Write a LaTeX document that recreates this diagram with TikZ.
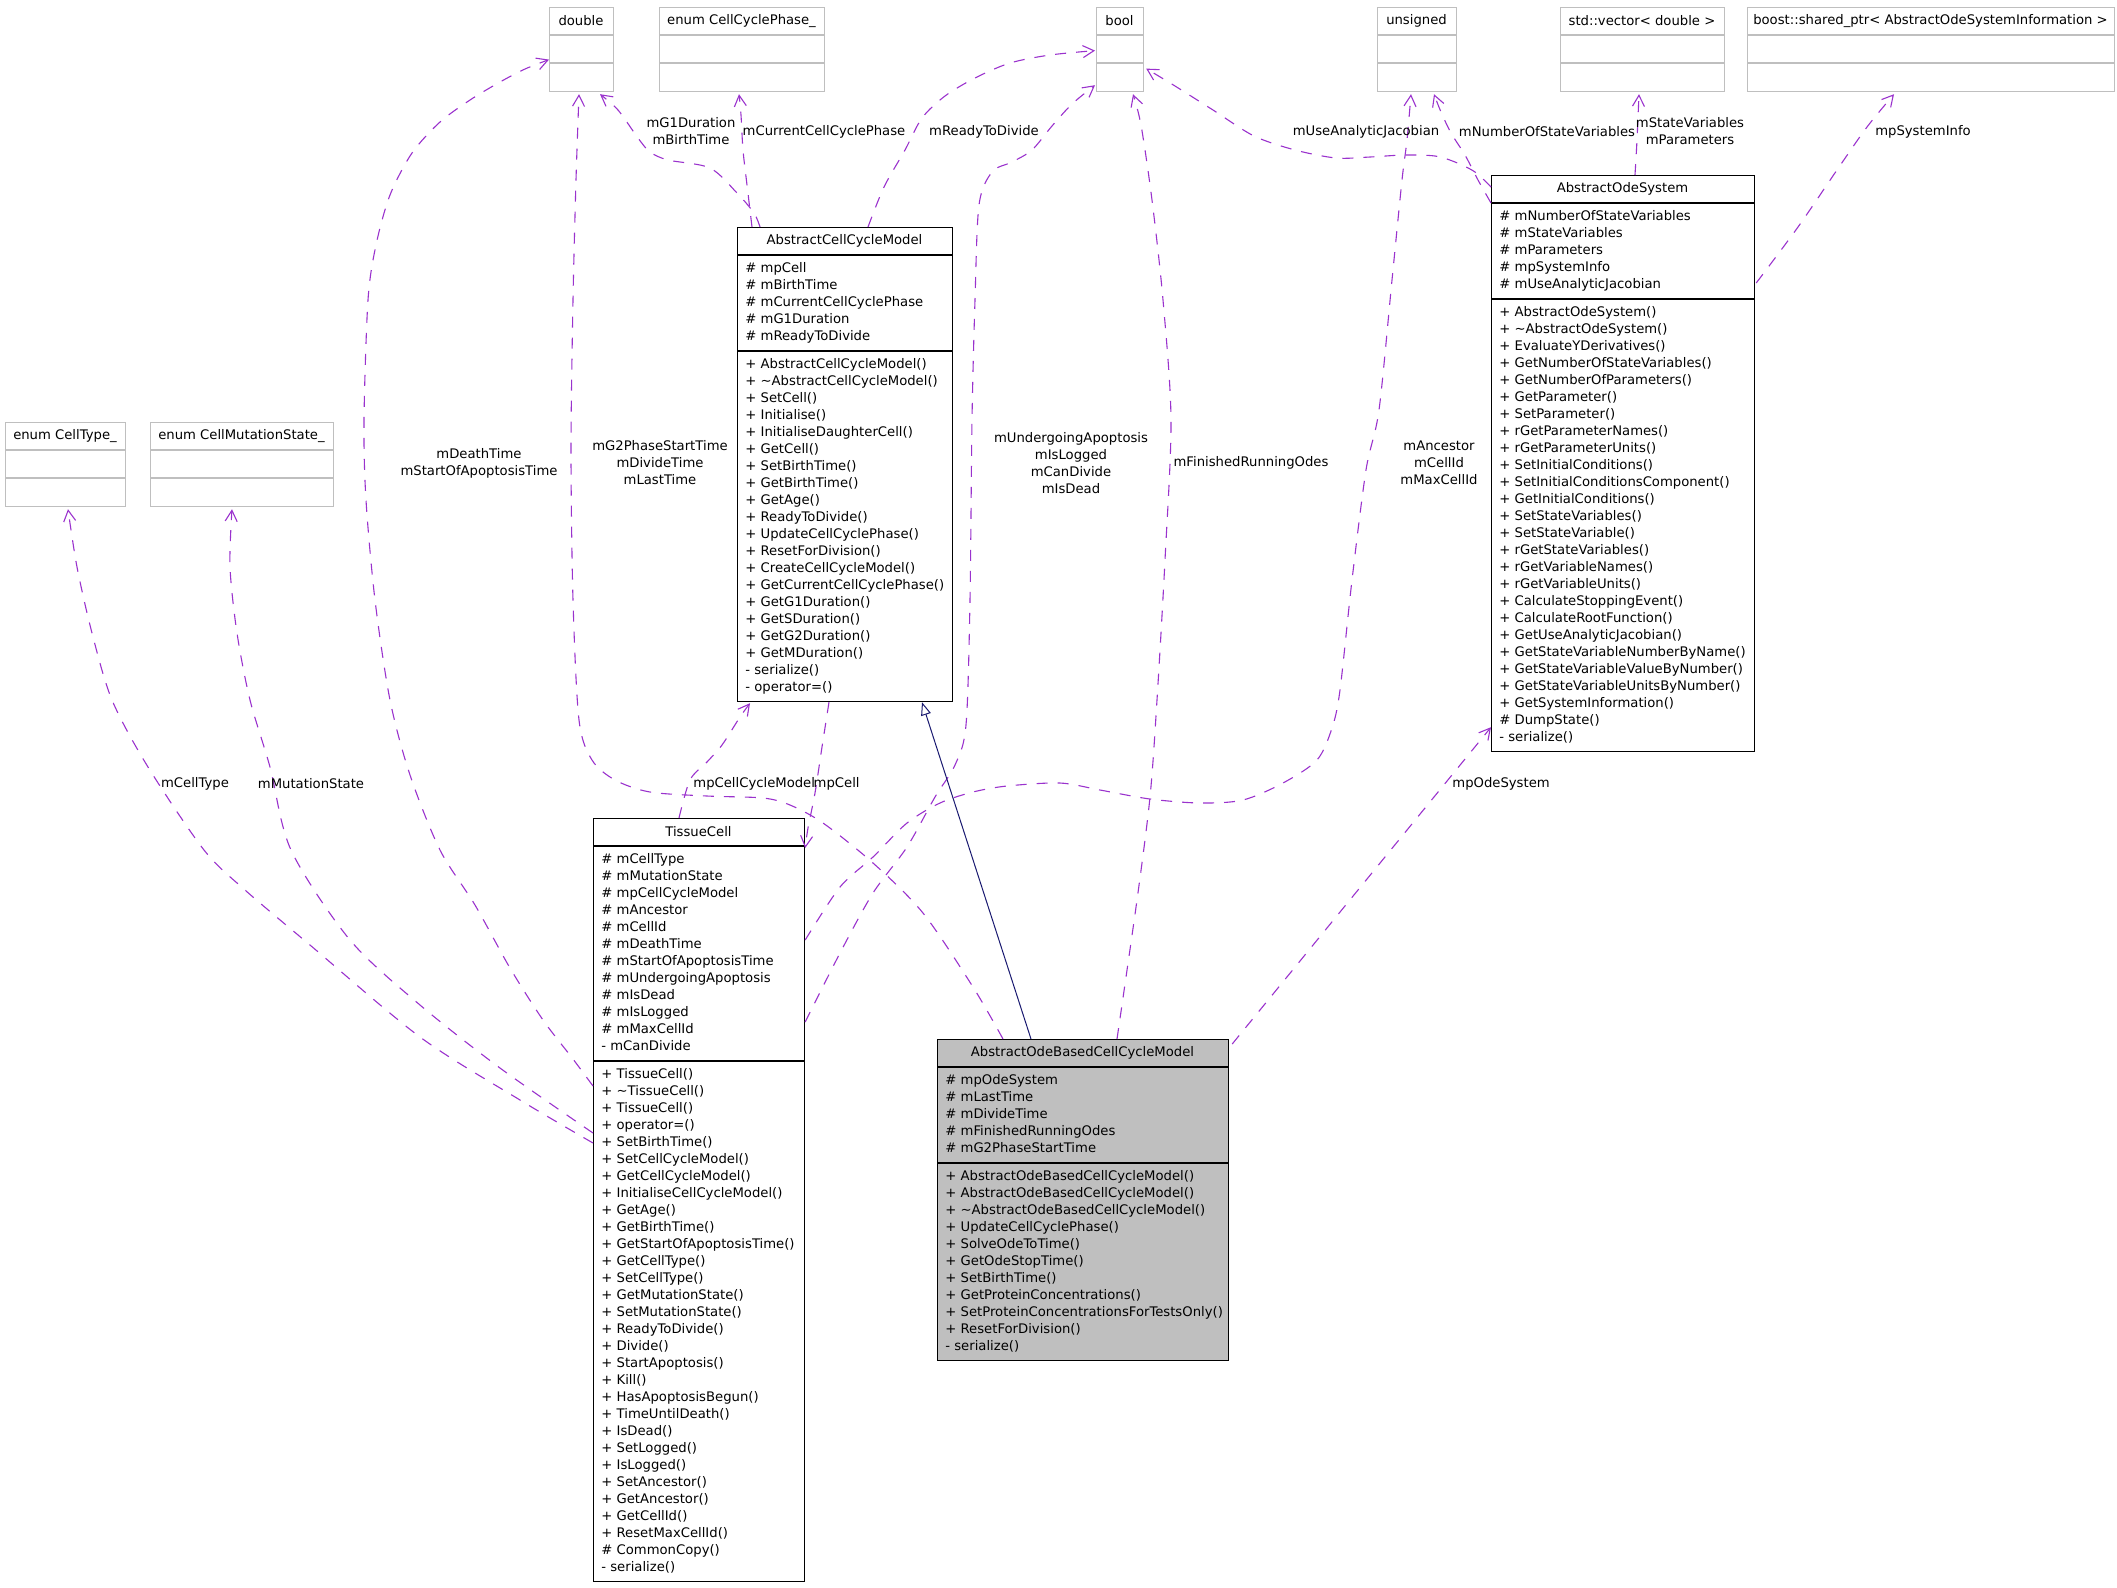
\documentclass[tikz,border=0pt]{standalone}
\usepackage{fontspec}
\setmainfont{DejaVu Sans}
\usetikzlibrary{arrows.meta,calc}
\definecolor{relpurple}{HTML}{9A32CD}
\definecolor{inhblue}{HTML}{191970}
\definecolor{boxgray}{HTML}{BFBFBF}
\tikzset{
  umlfont/.style={font=\fontsize{6.6}{8.5}\selectfont},
  classbox/.style={draw=black, line width=0.6pt, fill=white, anchor=north west, inner sep=0pt},
  typebox/.style={draw=boxgray, line width=0.6pt, fill=white, anchor=north west, inner sep=0pt},
  focusbox/.style={draw=black, line width=0.6pt, fill=boxgray, anchor=north west, inner sep=0pt},
  ctitle/.style={umlfont, inner sep=0pt, anchor=center},
  ctext/.style={umlfont, inner sep=0pt, anchor=north west, align=left},
  rel/.style={draw=relpurple, line width=0.55pt, dash pattern=on 5.5pt off 5pt,
              -{Straight Barb[length=5.5pt,width=6pt]}},
  inh/.style={draw=inhblue, line width=0.5pt, -{Triangle[open,length=6.5pt,width=5pt,fill=white]}},
  lbl/.style={umlfont, inner sep=0pt, align=center, text=black},
}
\newcommand\umlclass[9][classbox]{%
  \node[#1, minimum width={#4*0.5pt}, minimum height={(28+#6+#8)*0.5pt}] (#2) at (#3) {};
  \draw[#1, fill=none] ($(#2.north west)+(0,28)$) -- ($(#2.north east)+(0,28)$);
  \draw[#1, fill=none] ($(#2.north west)+(0,28+#6)$) -- ($(#2.north east)+(0,28+#6)$);
  \node[ctitle] (#2-t) at ($(#2.north west)+(#4/2,14)$) {#5};
  \node[ctext] (#2-a) at ($(#2.north west)+(8,33)$) {\strut#7};
  \node[ctext] (#2-m) at ($(#2.north west)+(8,33+#6)$) {\strut#9};
}
\begin{document}
\begin{tikzpicture}[x=0.5pt, y=-0.5pt]
\useasboundingbox (0,0) rectangle (2117,1587);

% type boxes
\umlclass[typebox]{double}{549,7}{64}{double}{28}{}{28}{}
\umlclass[typebox]{ccp}{659,7}{165}{enum CellCyclePhase\_}{28}{}{28}{}
\umlclass[typebox]{bool}{1096,7}{47}{bool}{28}{}{28}{}
\umlclass[typebox]{unsigned}{1377,7}{79}{unsigned}{28}{}{28}{}
\umlclass[typebox]{vector}{1560,7}{164}{std::vector< double >}{28}{}{28}{}
\umlclass[typebox]{boost}{1747,7}{367}{boost::shared\_ptr< AbstractOdeSystemInformation >}{28}{}{28}{}
\umlclass[typebox]{ctype}{5,422}{120}{enum CellType\_}{28}{}{28}{}
\umlclass[typebox]{cms}{150,422}{183}{enum CellMutationState\_}{28}{}{28}{}

% classes
\umlclass{acm}{737,227}{215}{AbstractCellCycleModel}{96}{%
\# mpCell\\\# mBirthTime\\\# mCurrentCellCyclePhase\\\# mG1Duration\\\# mReadyToDivide}{350}{%
+ AbstractCellCycleModel()\\+ \textasciitilde AbstractCellCycleModel()\\+ SetCell()\\+ Initialise()\\%
+ InitialiseDaughterCell()\\+ GetCell()\\+ SetBirthTime()\\+ GetBirthTime()\\+ GetAge()\\%
+ ReadyToDivide()\\+ UpdateCellCyclePhase()\\+ ResetForDivision()\\+ CreateCellCycleModel()\\%
+ GetCurrentCellCyclePhase()\\+ GetG1Duration()\\+ GetSDuration()\\+ GetG2Duration()\\%
+ GetMDuration()\\- serialize()\\- operator=()}

\umlclass{aos}{1491,175}{263}{AbstractOdeSystem}{96}{%
\# mNumberOfStateVariables\\\# mStateVariables\\\# mParameters\\\# mpSystemInfo\\\# mUseAnalyticJacobian}{452}{%
+ AbstractOdeSystem()\\+ \textasciitilde AbstractOdeSystem()\\+ EvaluateYDerivatives()\\%
+ GetNumberOfStateVariables()\\+ GetNumberOfParameters()\\+ GetParameter()\\+ SetParameter()\\%
+ rGetParameterNames()\\+ rGetParameterUnits()\\+ SetInitialConditions()\\%
+ SetInitialConditionsComponent()\\+ GetInitialConditions()\\+ SetStateVariables()\\%
+ SetStateVariable()\\+ rGetStateVariables()\\+ rGetVariableNames()\\+ rGetVariableUnits()\\%
+ CalculateStoppingEvent()\\+ CalculateRootFunction()\\+ GetUseAnalyticJacobian()\\%
+ GetStateVariableNumberByName()\\+ GetStateVariableValueByNumber()\\%
+ GetStateVariableUnitsByNumber()\\+ GetSystemInformation()\\\# DumpState()\\- serialize()}

\umlclass{tc}{593,818}{211}{TissueCell}{215}{%
\# mCellType\\\# mMutationState\\\# mpCellCycleModel\\\# mAncestor\\\# mCellId\\\# mDeathTime\\%
\# mStartOfApoptosisTime\\\# mUndergoingApoptosis\\\# mIsDead\\\# mIsLogged\\\# mMaxCellId\\- mCanDivide}{520}{%
+ TissueCell()\\+ \textasciitilde TissueCell()\\+ TissueCell()\\+ operator=()\\+ SetBirthTime()\\%
+ SetCellCycleModel()\\+ GetCellCycleModel()\\+ InitialiseCellCycleModel()\\+ GetAge()\\%
+ GetBirthTime()\\+ GetStartOfApoptosisTime()\\+ GetCellType()\\+ SetCellType()\\%
+ GetMutationState()\\+ SetMutationState()\\+ ReadyToDivide()\\+ Divide()\\+ StartApoptosis()\\%
+ Kill()\\+ HasApoptosisBegun()\\+ TimeUntilDeath()\\+ IsDead()\\+ SetLogged()\\+ IsLogged()\\%
+ SetAncestor()\\+ GetAncestor()\\+ GetCellId()\\+ ResetMaxCellId()\\\# CommonCopy()\\- serialize()}

\umlclass[focusbox]{abccm}{937,1039}{291}{AbstractOdeBasedCellCycleModel}{96}{%
\# mpOdeSystem\\\# mLastTime\\\# mDivideTime\\\# mFinishedRunningOdes\\\# mG2PhaseStartTime}{197}{%
+ AbstractOdeBasedCellCycleModel()\\+ AbstractOdeBasedCellCycleModel()\\%
+ \textasciitilde AbstractOdeBasedCellCycleModel()\\+ UpdateCellCyclePhase()\\+ SolveOdeToTime()\\%
+ GetOdeStopTime()\\+ SetBirthTime()\\+ GetProteinConcentrations()\\%
+ SetProteinConcentrationsForTestsOnly()\\+ ResetForDivision()\\- serialize()}

% connectors
% ACCM -> double
\draw[rel] plot[smooth] coordinates {($(acm.north west)+(23,0)$) (754,213) (737,193) (710,168) (668,160) (650,152) (638,138) (618,110) ($(double.south west)+(51,2)$)};
% ACCM -> CellCyclePhase
\draw[rel] plot[smooth] coordinates {($(acm.north west)+(15,0)$) (747,185) (743,150) (741,115) ($(ccp.south west)+(80,2)$)};
% ACCM -> bool
\draw[rel] plot[smooth] coordinates {($(acm.north west)+(131,0)$) (884,187) (905,150) (922,118) (945,96) (975,78) (1010,63) (1050,55) ($(bool.west)+(-1,1)$)};
% TissueCell -> bool
\draw[rel] plot[smooth] coordinates {($(tc.north east)+(0,204)$) (840,953) (873,893) (907,847) (935,797) (955,765) (966,725) (970,600) (972,420) (975,300) (979,205) (992,172) (1012,162) (1032,150) (1052,126) (1072,104) ($(bool.south west)+(-1,-7)$)};
% TissueCell -> unsigned
\draw[rel] plot[smooth] coordinates {($(tc.north east)+(0,122)$) (840,887) (873,857) (907,823) (940,803) (973,792) (1007,786) (1060,783) (1100,790) (1150,799) (1200,803) (1243,800) (1283,783) (1317,760) (1332,728) (1340,690) (1352,580) (1366,470) (1379,410) (1392,280) (1402,180) (1407,140) ($(unsigned.south west)+(34,2)$)};
% ABCCM -> double
\draw[rel] plot[smooth] coordinates {($(abccm.north west)+(66,0)$) (973,987) (923,913) (873,863) (823,823) (790,805) (763,798) (707,796) (650,792) (615,780) (592,760) (579,720) (573,600) (571,450) (573,300) (576,180) ($(double.south west)+(30,2)$)};
% TissueCell -> double
\draw[rel] plot[smooth] coordinates {($(tc.north west)+(0,268)$) (573,1059) (543,1020) (510,968) (475,905) (440,850) (410,775) (390,700) (375,600) (366,500) (364,420) (368,300) (376,245) (390,195) (412,153) (440,122) (470,100) (500,82) (525,69) ($(double.west)+(0,10)$)};
% TissueCell -> CellType
\draw[rel] plot[smooth] coordinates {($(tc.north west)+(0,325)$) (520,1100) (420,1037) (310,945) (245,890) (204,850) (148,767) (112,700) (92,633) (77,567) ($(ctype.south west)+(63,2)$)};
% TissueCell -> CellMutationState
\draw[rel] plot[smooth] coordinates {($(tc.north west)+(0,315)$) (500,1068) (420,1005) (350,940) (291,850) (270,767) (250,700) (237,633) (230,567) ($(cms.south west)+(82,2)$)};
% TissueCell -> ACCM
\draw[rel] plot[smooth] coordinates {($(tc.north west)+(86,0)$) (690,780) (707,762) (722,745) (740,717) ($(acm.south west)+(13,1)$)};
% ACCM -> TissueCell
\draw[rel] plot[smooth] coordinates {($(acm.south west)+(92,0)$) (822,747) (815,793) (808,828) ($(tc.north east)+(0,30)$)};
% ABCCM -> bool
\draw[rel] plot[smooth] coordinates {($(abccm.north west)+(180,0)$) (1137,900) (1150,797) (1157,700) (1165,560) (1171,420) (1163,300) (1152,200) (1141,125) ($(bool.south west)+(37,2)$)};
% ABCCM -> AOS
\draw[rel] ($(abccm.north east)+(3,5)$) -- ($(aos.south west)+(0,-25)$);
% AOS -> bool
\draw[rel] plot[smooth] coordinates {($(aos.north west)+(0,12)$) (1475,172) (1455,162) (1435,156) (1404,155) (1370,157) (1336,158) (1295,150) (1254,136) (1213,110) (1175,86) ($(bool.east)+(2,19)$)};
% AOS -> unsigned
\draw[rel] plot[smooth] coordinates {($(aos.north west)+(0,28)$) (1478,180) (1465,155) (1451,133) (1441,112) ($(unsigned.south west)+(57,2)$)};
% AOS -> vector
\draw[rel] plot[smooth] coordinates {($(aos.north west)+(144,0)$) (1637,140) ($(vector.south west)+(79,2)$)};
% AOS -> boost
\draw[rel] plot[smooth] coordinates {($(aos.north east)+(1,108)$) (1798,227) (1839,167) (1867,127) ($(boost.south west)+(147,2)$)};
% inheritance
\draw[inh] ($(abccm.north west)+(94,0)$) -- ($(acm.south west)+(185,0)$);

% labels
\node[lbl] (l1) at (691,131) {mG1Duration\\mBirthTime};
\node[lbl] (l2) at (824,132) {mCurrentCellCyclePhase};
\node[lbl] (l3) at (984,132) {mReadyToDivide};
\node[lbl] (l4) at (1366,132) {mUseAnalyticJacobian};
\node[lbl] (l5) at (1547,132) {mNumberOfStateVariables};
\node[lbl] (l6) at (1690,131) {mStateVariables\\mParameters};
\node[lbl] (l7) at (1923,132) {mpSystemInfo};
\node[lbl] (l8) at (479,463) {mDeathTime\\mStartOfApoptosisTime};
\node[lbl] (l9) at (660,463) {mG2PhaseStartTime\\mDivideTime\\mLastTime};
\node[lbl] (l10) at (1071,463) {mUndergoingApoptosis\\mIsLogged\\mCanDivide\\mIsDead};
\node[lbl] (l11) at (1251,463) {mFinishedRunningOdes};
\node[lbl] (l12) at (1439,463) {mAncestor\\mCellId\\mMaxCellId};
\node[lbl] (l13) at (195,784) {mCellType};
\node[lbl] (l14) at (311,784) {mMutationState};
\node[lbl, anchor=west] (l15) at (693,784) {mpCellCycleModel};
\node[lbl, anchor=east] (l16) at (860,784) {mpCell};
\node[lbl, anchor=west] (l17) at (1452,784) {mpOdeSystem};
\end{tikzpicture}
\end{document}
